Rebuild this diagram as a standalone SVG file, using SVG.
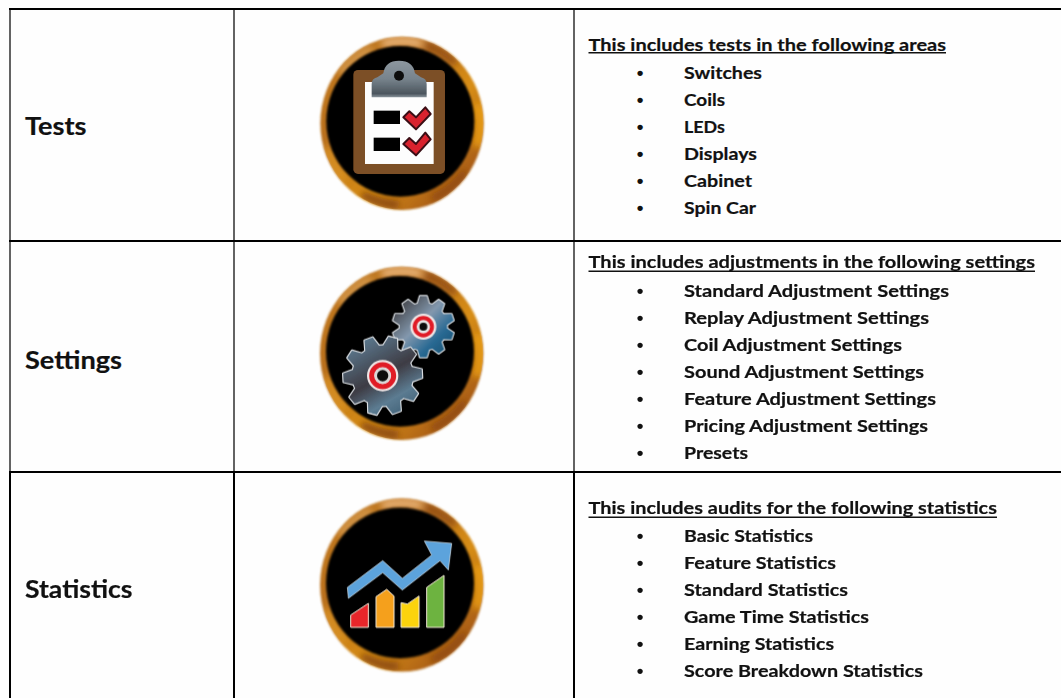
<svg xmlns="http://www.w3.org/2000/svg" width="1061" height="698" viewBox="0 0 1061 698">
<style>
.t{font-family:Lato,"Open Sans","Liberation Sans",sans-serif;font-weight:700;fill:#111;stroke:#111;stroke-width:.2px}
.h,.i{font-size:17.4px}
.l{font-size:25.5px}
.u{stroke:#111;stroke-width:1.4;fill:none}
.b{font-family:"Liberation Sans",sans-serif;font-weight:700;font-size:19px;fill:#111;text-anchor:middle}
.grid{stroke-width:2;fill:none}
.gr{stroke:#636363}
.bk{stroke:#000}
.chk{fill:#d9232e;stroke:#3b1015;stroke-width:6;stroke-linejoin:round}
</style>
<defs>
<filter id="soft" x="-10%" y="-10%" width="120%" height="120%"><feGaussianBlur stdDeviation="3"/></filter>
<filter id="soft3" x="-30%" y="-30%" width="160%" height="160%"><feGaussianBlur stdDeviation="11"/></filter>
<filter id="soft2" x="-10%" y="-10%" width="120%" height="120%"><feGaussianBlur stdDeviation="2"/></filter>
<clipPath id="ringClip"><ellipse rx="244" ry="259"/></clipPath>
<linearGradient id="copper" x1="0" y1="0" x2="1" y2="1">
<stop offset="0" stop-color="#c47c20"/><stop offset=".35" stop-color="#b86e1e"/><stop offset=".6" stop-color="#d88e14"/><stop offset=".85" stop-color="#a85c12"/><stop offset="1" stop-color="#b06a18"/>
</linearGradient>
<linearGradient id="clipg" x1="0" y1="0" x2="0" y2="1"><stop offset="0" stop-color="#8d979f"/><stop offset=".5" stop-color="#77838c"/><stop offset=".9" stop-color="#4c565e"/><stop offset="1" stop-color="#8a949c"/></linearGradient>
<linearGradient id="gearA" x1="0" y1="0" x2="1" y2="1"><stop offset=".1" stop-color="#5f7f96"/><stop offset=".5" stop-color="#3e3c44"/><stop offset=".72" stop-color="#5c7c92"/><stop offset=".95" stop-color="#3a5a70"/></linearGradient>
<linearGradient id="gearB" x1="0" y1="0" x2="1" y2="1"><stop offset=".1" stop-color="#404044"/><stop offset=".45" stop-color="#8398ae"/><stop offset=".7" stop-color="#2a6a94"/><stop offset=".95" stop-color="#15506f"/></linearGradient>
<polygon id="tooth" points="-22,-88 -13,-118 13,-118 22,-88"/>
<clipPath id="gearClip">
<circle r="91"/>
<use href="#tooth"/><use href="#tooth" transform="rotate(36)"/><use href="#tooth" transform="rotate(72)"/><use href="#tooth" transform="rotate(108)"/><use href="#tooth" transform="rotate(144)"/><use href="#tooth" transform="rotate(180)"/><use href="#tooth" transform="rotate(216)"/><use href="#tooth" transform="rotate(252)"/><use href="#tooth" transform="rotate(288)"/><use href="#tooth" transform="rotate(324)"/>
</clipPath>
<g id="gearBody">
<circle r="91"/>
<use href="#tooth"/><use href="#tooth" transform="rotate(36)"/><use href="#tooth" transform="rotate(72)"/><use href="#tooth" transform="rotate(108)"/><use href="#tooth" transform="rotate(144)"/><use href="#tooth" transform="rotate(180)"/><use href="#tooth" transform="rotate(216)"/><use href="#tooth" transform="rotate(252)"/><use href="#tooth" transform="rotate(288)"/><use href="#tooth" transform="rotate(324)"/>
</g>
<g id="ring">
<ellipse cx="0" cy="0" rx="245" ry="260" fill="url(#copper)" filter="url(#soft)"/>
<g clip-path="url(#ringClip)">
<g fill="none" stroke-width="22" filter="url(#soft3)">
<path d="M-185 -150A235 245 0 0 1 -90 -225" stroke="#d49a50"/>
<path d="M-60 -238A235 245 0 0 1 60 -238" stroke="#eebb84"/>
<path d="M70 -234A235 245 0 0 1 160 -180" stroke="#8f4c18"/>
<path d="M228 -60A235 245 0 0 1 225 70" stroke="#f2a50c"/>
<path d="M190 145A235 245 0 0 1 90 226" stroke="#8f4a0c"/>
<path d="M-120 212A235 245 0 0 0 -10 244" stroke="#84440c"/>
<path d="M-225 70A235 245 0 0 0 -170 170" stroke="#dc9424"/>
</g>
</g>
<ellipse cx="-5" cy="-6" rx="222" ry="226" fill="#000" filter="url(#soft)"/>
</g>
</defs>
<rect width="1061" height="698" fill="#fefefe"/>

<g id="connectors">
<path class="grid gr" d="M10 9V472M234 9V472M574 9V472"/>
<path class="grid bk" d="M10 472V698M234 472V698M574 472V698"/>
<path class="grid bk" d="M9 9H1061M9 241H1061M9 472H1061"/>
</g>

<g id="tests">
<text class="t l" x="25" y="135" textLength="61.5" lengthAdjust="spacingAndGlyphs">Tests</text>
<g id="tests-icon" transform="translate(320 20) scale(.3333)">
<use href="#ring" x="246" y="310"/>
<g filter="url(#soft2)">
<rect x="100" y="150" width="275" height="312" rx="14" fill="#7c4f28"/>
<rect x="135" y="186" width="206" height="246" fill="#fdfdfd"/>
<path d="M155 232V192Q155 176 172 172L190 160Q195 122 237 122Q280 122 285 160L303 172Q320 176 320 192V232Z" fill="url(#clipg)"/>
<circle cx="237" cy="167" r="15" fill="#111"/>
<rect x="161" y="272" width="79" height="40" fill="#000"/>
<rect x="161" y="353" width="79" height="40" fill="#000"/>
<path class="chk" d="M250 292L268 274L288 292L316 262L332 282L288 328Z"/>
<path class="chk" d="M250 372L268 354L288 372L316 338L332 358L288 406Z"/>
</g>
</g>
<g id="tests-text">
<text class="t h" x="588.5" y="50.6" textLength="357.5" lengthAdjust="spacingAndGlyphs">This includes tests in the following areas</text>
<path class="u" d="M588.5 52.7H946"/>
<text class="b" x="640" y="78.5">•</text><text class="t i" x="684" y="78.7" textLength="78" lengthAdjust="spacingAndGlyphs">Switches</text>
<text class="b" x="640" y="105.5">•</text><text class="t i" x="684" y="105.7" textLength="41" lengthAdjust="spacingAndGlyphs">Coils</text>
<text class="b" x="640" y="132.5">•</text><text class="t i" x="684" y="132.7" textLength="41" lengthAdjust="spacingAndGlyphs">LEDs</text>
<text class="b" x="640" y="159.5">•</text><text class="t i" x="684" y="159.7" textLength="73" lengthAdjust="spacingAndGlyphs">Displays</text>
<text class="b" x="640" y="186.5">•</text><text class="t i" x="684" y="186.7" textLength="68" lengthAdjust="spacingAndGlyphs">Cabinet</text>
<text class="b" x="640" y="213.5">•</text><text class="t i" x="684" y="213.7" textLength="72" lengthAdjust="spacingAndGlyphs">Spin Car</text>
</g>
</g>

<g id="settings">
<text class="t l" x="25" y="368.5" textLength="97" lengthAdjust="spacingAndGlyphs">Settings</text>
<g id="settings-icon" transform="translate(320 255) scale(.3333)">
<use href="#ring" x="245" y="295"/>
<g filter="url(#soft2)">
<g transform="translate(310 215) scale(.78)">
<use href="#gearBody" fill="#d8dce0" stroke="#d8dce0" stroke-width="9" stroke-linejoin="round"/>
<rect x="-120" y="-120" width="240" height="240" fill="url(#gearB)" clip-path="url(#gearClip)"/>
</g>
<circle cx="310" cy="215" r="39" fill="#f0e6e6"/>
<circle cx="310" cy="215" r="26" fill="none" stroke="#e01c28" stroke-width="12"/>
<circle cx="310" cy="215" r="18" fill="#e8e8e8"/>
<circle cx="310" cy="215" r="12" fill="#111"/>
<g transform="translate(188 362) rotate(15)">
<use href="#gearBody" fill="#d8dce0" stroke="#d8dce0" stroke-width="7" stroke-linejoin="round"/>
<rect x="-120" y="-120" width="240" height="240" fill="url(#gearA)" clip-path="url(#gearClip)"/>
</g>
<circle cx="188" cy="362" r="47" fill="#f0e6e6"/>
<circle cx="188" cy="362" r="33" fill="none" stroke="#e01c28" stroke-width="15"/>
<circle cx="188" cy="362" r="24" fill="#d8d8d8"/>
<circle cx="188" cy="362" r="17" fill="#111"/>
</g>
</g>
<g id="settings-text">
<text class="t h" x="588.5" y="268.2" textLength="446.5" lengthAdjust="spacingAndGlyphs">This includes adjustments in the following settings</text>
<path class="u" d="M588.5 271.2H1035"/>
<text class="b" x="640" y="296.5">•</text><text class="t i" x="684" y="296.7" textLength="265" lengthAdjust="spacingAndGlyphs">Standard Adjustment Settings</text>
<text class="b" x="640" y="323.5">•</text><text class="t i" x="684" y="323.7" textLength="245" lengthAdjust="spacingAndGlyphs">Replay Adjustment Settings</text>
<text class="b" x="640" y="350.5">•</text><text class="t i" x="684" y="350.7" textLength="218" lengthAdjust="spacingAndGlyphs">Coil Adjustment Settings</text>
<text class="b" x="640" y="377.5">•</text><text class="t i" x="684" y="377.7" textLength="240" lengthAdjust="spacingAndGlyphs">Sound Adjustment Settings</text>
<text class="b" x="640" y="404.5">•</text><text class="t i" x="684" y="404.7" textLength="252" lengthAdjust="spacingAndGlyphs">Feature Adjustment Settings</text>
<text class="b" x="640" y="431.5">•</text><text class="t i" x="684" y="431.7" textLength="244" lengthAdjust="spacingAndGlyphs">Pricing Adjustment Settings</text>
<text class="b" x="640" y="459">•</text><text class="t i" x="684" y="459.2" textLength="64" lengthAdjust="spacingAndGlyphs">Presets</text>
</g>
</g>

<g id="statistics">
<text class="t l" x="25" y="598" textLength="107.5" lengthAdjust="spacingAndGlyphs">Statistics</text>
<g id="statistics-icon" transform="translate(320 470) scale(.3333)">
<use href="#ring" x="245" y="345"/>
<g filter="url(#soft2)" stroke="#f4ead8" stroke-width="3">
<path d="M92 435L145 400V472H92Z" fill="#e8262a"/>
<path d="M168 380L200 358L222 378V472H168Z" fill="#f5a01e"/>
<path d="M243 398L262 402L297 378V472H243Z" fill="#fcd310"/>
<path d="M320 352L372 316V472H320Z" fill="#6db33f"/>
<path d="M82 352L188 272L247 325L335 255L313 213L395 220L385 300L360 272L247 360L188 308L85 385Z" fill="#5ba3dc" stroke="#dfe8ee" stroke-width="2"/>
</g>
</g>
<g id="statistics-text">
<text class="t h" x="588.5" y="514.2" textLength="408.5" lengthAdjust="spacingAndGlyphs">This includes audits for the following statistics</text>
<path class="u" d="M588.5 517.2H997"/>
<text class="b" x="640" y="541.5">•</text><text class="t i" x="684" y="541.7" textLength="129" lengthAdjust="spacingAndGlyphs">Basic Statistics</text>
<text class="b" x="640" y="568.5">•</text><text class="t i" x="684" y="568.7" textLength="152" lengthAdjust="spacingAndGlyphs">Feature Statistics</text>
<text class="b" x="640" y="595.5">•</text><text class="t i" x="684" y="595.7" textLength="164" lengthAdjust="spacingAndGlyphs">Standard Statistics</text>
<text class="b" x="640" y="623">•</text><text class="t i" x="684" y="623.2" textLength="185" lengthAdjust="spacingAndGlyphs">Game Time Statistics</text>
<text class="b" x="640" y="650">•</text><text class="t i" x="684" y="650.2" textLength="150" lengthAdjust="spacingAndGlyphs">Earning Statistics</text>
<text class="b" x="640" y="676.5">•</text><text class="t i" x="684" y="676.7" textLength="239" lengthAdjust="spacingAndGlyphs">Score Breakdown Statistics</text>
</g>
</g>
</svg>
